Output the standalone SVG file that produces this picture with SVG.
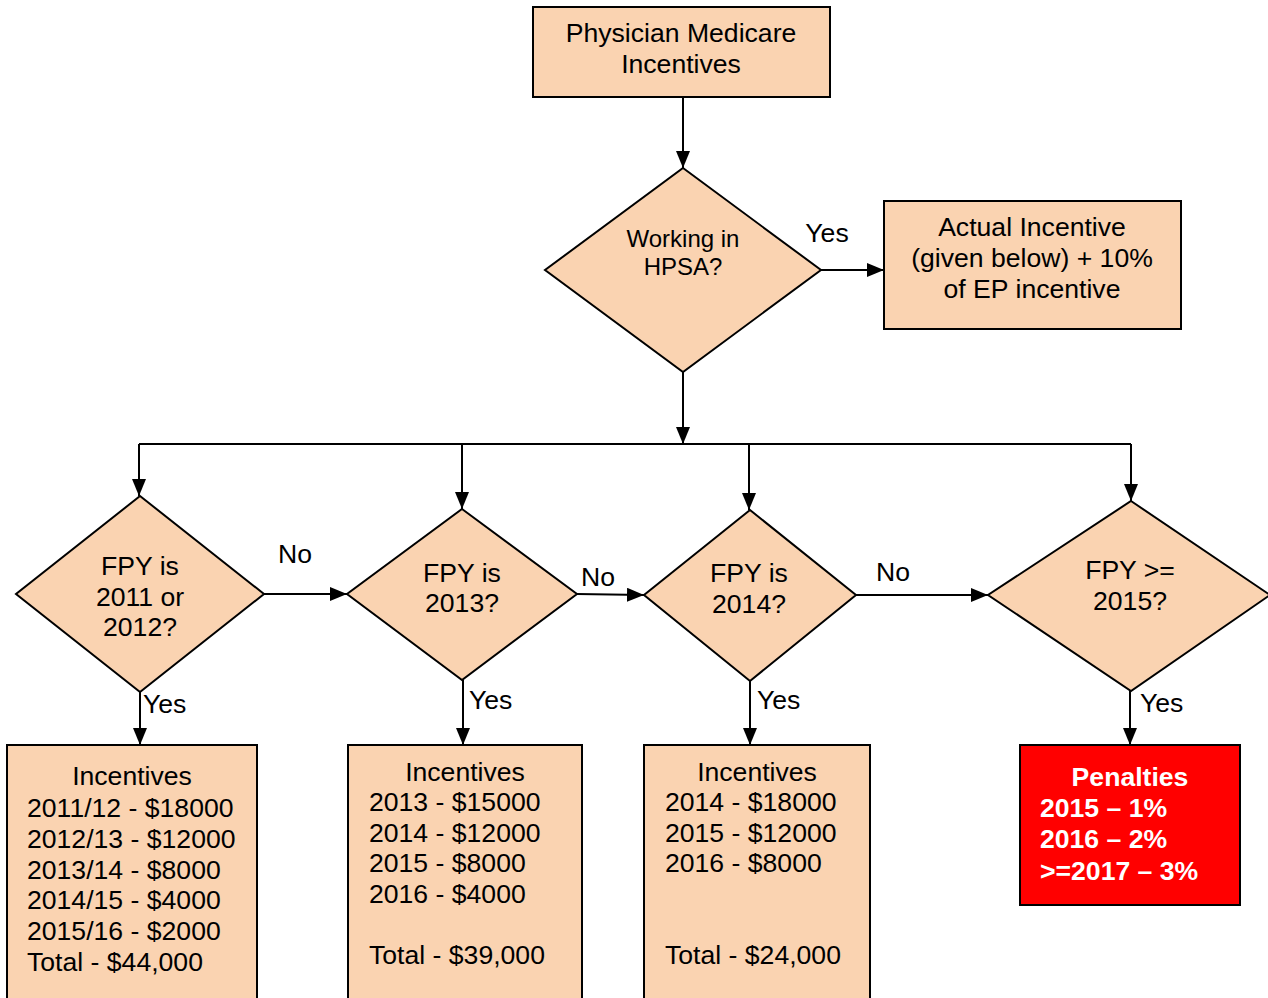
<svg xmlns="http://www.w3.org/2000/svg" width="1268" height="998" viewBox="0 0 1268 998">
<style>
  .box { fill: #FAD3B1; stroke: #000; stroke-width: 2; }
  .red { fill: #FF0000; stroke: #000; stroke-width: 2; }
  .t { font-family: "Liberation Sans", Arial, sans-serif; font-size: 26.6px; fill: #000; }
  .tc { text-anchor: middle; }
  .s24 { font-size: 24px; }
  .w { fill: #fff; font-weight: bold; }
  .c { stroke: #000; stroke-width: 2; fill: none; }
</style>
<defs>
  <marker id="arr" markerUnits="userSpaceOnUse" markerWidth="17" markerHeight="14" refX="17" refY="7" orient="auto">
    <path d="M0,0 L17,7 L0,14 Z" fill="#000"/>
  </marker>
</defs>
<rect width="1268" height="998" fill="#fff"/>

<g id="connectors">
  <line class="c" x1="683" y1="97" x2="683" y2="168" marker-end="url(#arr)"/>
  <line class="c" x1="821" y1="270" x2="884" y2="270" marker-end="url(#arr)"/>
  <line class="c" x1="683" y1="372" x2="683" y2="444" marker-end="url(#arr)"/>
  <line class="c" x1="139" y1="444" x2="1131" y2="444"/>
  <line class="c" x1="139" y1="444" x2="139" y2="496" marker-end="url(#arr)"/>
  <line class="c" x1="462" y1="444" x2="462" y2="509" marker-end="url(#arr)"/>
  <line class="c" x1="749" y1="444" x2="749" y2="510" marker-end="url(#arr)"/>
  <line class="c" x1="1131" y1="444" x2="1131" y2="501" marker-end="url(#arr)"/>
  <line class="c" x1="264" y1="594" x2="347" y2="594" marker-end="url(#arr)"/>
  <line class="c" x1="577" y1="594" x2="644" y2="595" marker-end="url(#arr)"/>
  <line class="c" x1="856" y1="595" x2="988" y2="595" marker-end="url(#arr)"/>
  <line class="c" x1="140" y1="692" x2="140" y2="745" marker-end="url(#arr)"/>
  <line class="c" x1="463" y1="680" x2="463" y2="745" marker-end="url(#arr)"/>
  <line class="c" x1="750" y1="681" x2="750" y2="745" marker-end="url(#arr)"/>
  <line class="c" x1="1130" y1="691" x2="1130" y2="745" marker-end="url(#arr)"/>
  <text class="t" x="827" y="242" text-anchor="middle">Yes</text>
  <text class="t" x="295" y="563" text-anchor="middle">No</text>
  <text class="t" x="598" y="586" text-anchor="middle">No</text>
  <text class="t" x="893" y="581" text-anchor="middle">No</text>
  <text class="t" x="143" y="713">Yes</text>
  <text class="t" x="469" y="709">Yes</text>
  <text class="t" x="757" y="709">Yes</text>
  <text class="t" x="1140" y="712">Yes</text>
</g>

<g id="start">
  <rect class="box" x="533" y="7" width="297" height="90"/>
  <text class="t tc" x="681" y="42">Physician Medicare</text>
  <text class="t tc" x="681" y="73">Incentives</text>
</g>

<g id="hpsa">
  <polygon class="box" points="683,168 821,270 683,372 545,270"/>
  <text class="t tc s24" x="683" y="247">Working in</text>
  <text class="t tc s24" x="683" y="275">HPSA?</text>
</g>

<g id="actual">
  <rect class="box" x="884" y="201" width="297" height="128"/>
  <text class="t tc" x="1032" y="236">Actual Incentive</text>
  <text class="t tc" x="1032" y="267">(given below) + 10%</text>
  <text class="t tc" x="1032" y="298">of EP incentive</text>
</g>

<g id="fpy1">
  <polygon class="box" points="140,496 264,594 140,692 16,594"/>
  <text class="t tc" x="140" y="575">FPY is</text>
  <text class="t tc" x="140" y="606">2011 or</text>
  <text class="t tc" x="140" y="636">2012?</text>
</g>

<g id="fpy2">
  <polygon class="box" points="462,509 577,594 462,680 347,594"/>
  <text class="t tc" x="462" y="582">FPY is</text>
  <text class="t tc" x="462" y="612">2013?</text>
</g>

<g id="fpy3">
  <polygon class="box" points="750,510 856,595 750,681 644,595"/>
  <text class="t tc" x="749" y="582">FPY is</text>
  <text class="t tc" x="749" y="613">2014?</text>
</g>

<g id="fpy4">
  <polygon class="box" points="1131,501 1270,595 1131,691 988,595"/>
  <text class="t tc" x="1130" y="579">FPY &gt;=</text>
  <text class="t tc" x="1130" y="610">2015?</text>
</g>

<g id="inc1">
  <rect class="box" x="7" y="745" width="250" height="260"/>
  <text class="t tc" x="132" y="785">Incentives</text>
  <text class="t" x="27" y="817">2011/12 - $18000</text>
  <text class="t" x="27" y="848">2012/13 - $12000</text>
  <text class="t" x="27" y="879">2013/14 - $8000</text>
  <text class="t" x="27" y="909">2014/15 - $4000</text>
  <text class="t" x="27" y="940">2015/16 - $2000</text>
  <text class="t" x="27" y="971">Total - $44,000</text>
</g>

<g id="inc2">
  <rect class="box" x="348" y="745" width="234" height="260"/>
  <text class="t tc" x="465" y="781">Incentives</text>
  <text class="t" x="369" y="811">2013 - $15000</text>
  <text class="t" x="369" y="842">2014 - $12000</text>
  <text class="t" x="369" y="872">2015 - $8000</text>
  <text class="t" x="369" y="903">2016 - $4000</text>
  <text class="t" x="369" y="964">Total - $39,000</text>
</g>

<g id="inc3">
  <rect class="box" x="644" y="745" width="226" height="260"/>
  <text class="t tc" x="757" y="781">Incentives</text>
  <text class="t" x="665" y="811">2014 - $18000</text>
  <text class="t" x="665" y="842">2015 - $12000</text>
  <text class="t" x="665" y="872">2016 - $8000</text>
  <text class="t" x="665" y="964">Total - $24,000</text>
</g>

<g id="penalties">
  <rect class="red" x="1020" y="745" width="220" height="160"/>
  <text class="t tc w" x="1130" y="786">Penalties</text>
  <text class="t w" x="1040" y="817">2015 – 1%</text>
  <text class="t w" x="1040" y="848">2016 – 2%</text>
  <text class="t w" x="1040" y="880">&gt;=2017 – 3%</text>
</g>
</svg>
